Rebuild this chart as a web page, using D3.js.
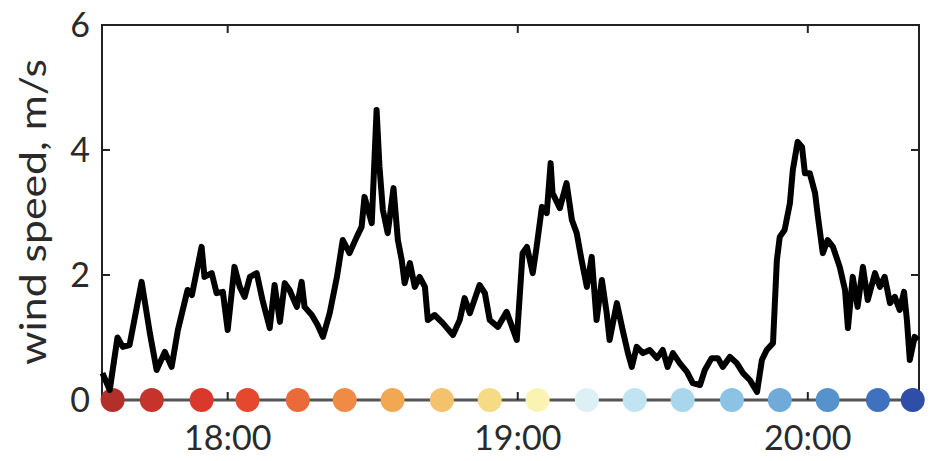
<!DOCTYPE html>
<html>
<head>
<meta charset="utf-8">
<script src="https://cdn.jsdelivr.net/npm/d3@7"></script>
<style>
  body { margin: 0; background: #fff; }
  text { font-family: Lato, "Noto Sans", sans-serif; fill: #2a2a2a; }
</style>
</head>
<body>
<div id="chart"></div>
<script>
// minutos después de las 17:00 y velocidad del viento (m/s)
const minutes = [34.1, 35.6, 37.2, 38.3, 39.7, 42.2, 43.9, 45.3, 47.0, 48.4, 49.7, 51.7, 52.6, 54.6, 55.2, 56.7, 57.7, 59.0,
  60.0, 61.4, 62.5, 63.5, 64.6, 66.0, 67.2, 68.7, 69.7, 70.8, 71.8, 72.8, 74.3, 75.3, 75.9, 77.4, 78.6, 79.7,
  81.1, 82.6, 83.8, 85.2, 86.7, 87.7, 88.3, 89.8, 90.8, 91.4, 92.1, 93.1, 94.3, 95.2, 96.0, 96.6, 97.7, 98.7, 99.7,
  100.8, 101.4, 102.8, 104.5, 106.6, 108.0, 109.0, 110.1, 112.1, 113.2, 114.2, 115.9, 117.7, 119.8,
  121.0, 121.9, 123.1, 123.9, 125.0, 126.0, 126.8, 127.2, 128.7, 130.1, 131.2, 132.2, 133.2, 134.3, 135.3, 136.3,
  137.4, 138.4, 139.0, 140.5, 141.7, 142.8, 143.6, 144.6, 145.9, 147.3, 148.8, 150.0, 151.0, 152.1, 153.5, 155.0,
  156.2, 157.7, 158.7, 160.1, 161.4, 162.4, 163.9, 165.3, 166.6, 168.0, 169.5, 170.5, 171.5, 172.8, 173.6, 174.2,
  175.2, 176.3, 176.9, 177.9, 178.8, 179.4, 180.4, 181.5, 182.1, 183.1, 184.1, 185.2, 186.6, 187.7, 188.3, 189.3,
  190.3, 191.4, 192.4, 193.9, 194.9, 195.9, 197.0, 198.0, 199.0, 199.9, 200.5, 201.1, 202.1, 202.8];
const speed = [0.43, 0.16, 1.00, 0.85, 0.88, 1.89, 1.07, 0.48, 0.77, 0.53, 1.12, 1.76, 1.68, 2.45, 1.97, 2.03, 1.71, 1.73,
  1.12, 2.13, 1.81, 1.65, 1.97, 2.03, 1.60, 1.15, 1.84, 1.25, 1.87, 1.76, 1.49, 1.89, 1.49, 1.36, 1.20, 1.01,
  1.39, 1.97, 2.56, 2.35, 2.61, 2.77, 3.25, 2.83, 4.64, 3.73, 3.04, 2.67, 3.39, 2.56, 2.24, 1.87, 2.19, 1.81, 1.97,
  1.81, 1.28, 1.36, 1.23, 1.04, 1.28, 1.63, 1.39, 1.84, 1.71, 1.28, 1.17, 1.41, 0.96,
  2.35, 2.45, 2.03, 2.45, 3.09, 2.99, 3.79, 3.31, 3.07, 3.47, 2.88, 2.67, 2.24, 1.81, 2.29, 1.28,
  1.92, 1.39, 0.96, 1.55, 1.12, 0.75, 0.53, 0.85, 0.75, 0.80, 0.67, 0.80, 0.53, 0.75, 0.59, 0.45,
  0.27, 0.24, 0.48, 0.67, 0.67, 0.53, 0.69, 0.59, 0.43, 0.32, 0.13, 0.64, 0.80, 0.91, 2.24, 2.61,
  2.72, 3.15, 3.68, 4.13, 4.05, 3.63, 3.63, 3.31, 2.93, 2.35, 2.56, 2.45, 2.13, 1.76, 1.15, 1.97,
  1.49, 2.13, 1.60, 2.03, 1.81, 1.97, 1.55, 1.65, 1.44, 1.73, 1.28, 0.64, 1.01, 0.96];

// marcas de tiempo (minutos después de las 17:00)
const markerMinutes = [36.2, 44.3, 54.6, 64.1, 74.5, 84.2, 94.1, 104.3, 114.2, 124.1, 134.3, 144.2, 154.1, 164.3, 174.2, 184.1, 194.5, 201.7];
const hourTicks = [60, 120, 180];
const yTicks = [0, 2, 4, 6];
const timeStart = 34, timeEnd = 203;

const palette = ["#b3302a", "#c6332c", "#d9392c", "#e5482f", "#eb6a39", "#ef8b45", "#f2a852", "#f4c26c", "#f6da84",
  "#fbf3b2", "#dcf0f5", "#c0e4f1", "#a8d6ec", "#8cc3e4", "#6faad8", "#5692cc", "#3f71bf", "#2e4ea8"];

const width = 935, height = 461;
const margin = { top: 25, right: 16, bottom: 61, left: 102 };

const base = new Date(2000, 0, 1, 17, 0);
const toDate = m => new Date(base.getTime() + m * 60000);

const svg = d3.select("#chart").append("svg")
  .attr("width", width)
  .attr("height", height);

const x = d3.scaleTime()
  .domain([toDate(timeStart), toDate(timeEnd)])
  .range([margin.left, width - margin.right]);

const y = d3.scaleLinear()
  .domain([0, 6])
  .range([height - margin.bottom, margin.top]);

const x0 = x.range()[0], x1 = x.range()[1];
const y0 = y.range()[0], y1 = y.range()[1];

// línea base gris
svg.append("line")
  .attr("x1", x0).attr("x2", x1)
  .attr("y1", y0).attr("y2", y0)
  .attr("stroke", "#555").attr("stroke-width", 3);

// marco
svg.append("path")
  .attr("d", `M${x0},${y0}V${y1}H${x1}V${y0}`)
  .attr("fill", "none")
  .attr("stroke", "#222")
  .attr("stroke-width", 2);

// ticks del eje x (arriba y abajo, hacia dentro)
hourTicks.forEach(m => {
  const px = x(toDate(m));
  svg.append("line").attr("x1", px).attr("x2", px).attr("y1", y1).attr("y2", y1 + 8)
    .attr("stroke", "#222").attr("stroke-width", 2);
  svg.append("line").attr("x1", px).attr("x2", px).attr("y1", y0).attr("y2", y0 - 8)
    .attr("stroke", "#222").attr("stroke-width", 2);
  svg.append("text")
    .attr("x", px).attr("y", y0 + 50)
    .attr("text-anchor", "middle")
    .attr("font-size", 34)
    .text(d3.timeFormat("%H:%M")(toDate(m)));
});

// ticks del eje y
yTicks.forEach(v => {
  const py = y(v);
  if (v > 0 && v < 6) {
    svg.append("line").attr("x1", x0).attr("x2", x0 + 8).attr("y1", py).attr("y2", py)
      .attr("stroke", "#222").attr("stroke-width", 2);
    svg.append("line").attr("x1", x1).attr("x2", x1 - 8).attr("y1", py).attr("y2", py)
      .attr("stroke", "#222").attr("stroke-width", 2);
  }
  svg.append("text")
    .attr("x", x0 - 12).attr("y", py)
    .attr("dy", "0.36em")
    .attr("text-anchor", "end")
    .attr("font-size", 34)
    .text(v);
});

svg.append("text")
  .attr("transform", "translate(46,212) rotate(-90)")
  .attr("text-anchor", "middle")
  .attr("font-size", 36)
  .attr("textLength", 306)
  .attr("lengthAdjust", "spacingAndGlyphs")
  .text("wind speed, m/s");

// puntos de color
svg.selectAll("circle.marker")
  .data(markerMinutes)
  .enter().append("circle")
  .attr("class", "marker")
  .attr("cx", d => x(toDate(d)))
  .attr("cy", y(0))
  .attr("r", 12)
  .attr("fill", (d, i) => palette[i]);

// serie de viento
const series = minutes.map((m, i) => ({ t: toDate(m), v: speed[i] }));
svg.append("path")
  .datum(series)
  .attr("fill", "none")
  .attr("stroke", "#000")
  .attr("stroke-width", 6)
  .attr("stroke-linejoin", "round")
  .attr("d", d3.line().x(d => x(d.t)).y(d => y(d.v)));
</script>
</body>
</html>
